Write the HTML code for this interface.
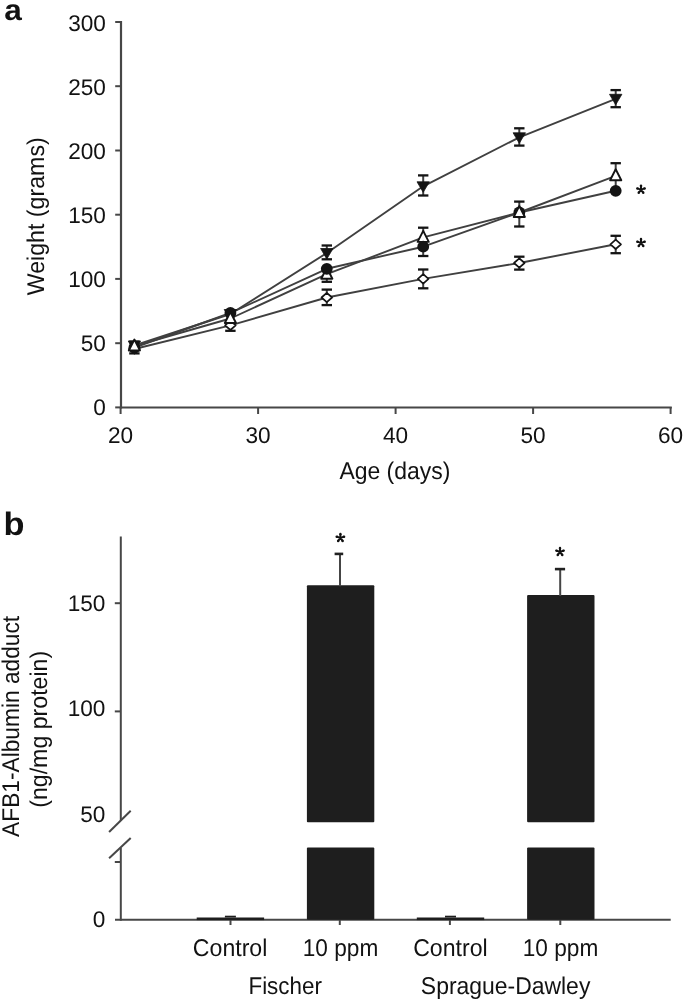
<!DOCTYPE html>
<html><head><meta charset="utf-8"><style>
html,body{margin:0;padding:0;background:#fff;}
body{width:685px;height:1002px;overflow:hidden;}
svg{display:block;will-change:transform;}
.w{width:685px;height:1002px;}
.t{font-family:"Liberation Sans",sans-serif;font-size:24.2px;fill:#121212;text-rendering:geometricPrecision;}
.d{font-size:22.6px;}
.b{font-family:"Liberation Sans",sans-serif;font-size:31px;font-weight:bold;fill:#121212;text-rendering:geometricPrecision;}
</style></head><body><div class="w">
<svg width="685" height="1002" viewBox="0 0 685 1002">
<text x="4.2" y="20.1" class="b" style="font-size:29.5px" textLength="17.6" lengthAdjust="spacingAndGlyphs">a</text>
<text x="3.6" y="534.9" class="b" style="font-size:32.5px" textLength="21" lengthAdjust="spacingAndGlyphs">b</text>
<line x1="121" y1="21" x2="121" y2="408.4" stroke="#474747" stroke-width="2.2"/>
<line x1="119.9" y1="407.5" x2="671.8" y2="407.5" stroke="#474747" stroke-width="2.2"/>
<line x1="115.2" y1="407.4" x2="121" y2="407.4" stroke="#474747" stroke-width="2"/>
<text x="105.9" y="414.5" text-anchor="end" class="t d">0</text>
<line x1="115.2" y1="343.2" x2="121" y2="343.2" stroke="#474747" stroke-width="2"/>
<text x="105.9" y="350.6" text-anchor="end" class="t d">50</text>
<line x1="115.2" y1="278.9" x2="121" y2="278.9" stroke="#474747" stroke-width="2"/>
<text x="105.9" y="286.6" text-anchor="end" class="t d">100</text>
<line x1="115.2" y1="214.7" x2="121" y2="214.7" stroke="#474747" stroke-width="2"/>
<text x="105.9" y="222.7" text-anchor="end" class="t d">150</text>
<line x1="115.2" y1="150.5" x2="121" y2="150.5" stroke="#474747" stroke-width="2"/>
<text x="105.9" y="158.8" text-anchor="end" class="t d">200</text>
<line x1="115.2" y1="86.2" x2="121" y2="86.2" stroke="#474747" stroke-width="2"/>
<text x="105.9" y="94.9" text-anchor="end" class="t d">250</text>
<line x1="115.2" y1="22.0" x2="121" y2="22.0" stroke="#474747" stroke-width="2"/>
<text x="105.9" y="30.9" text-anchor="end" class="t d">300</text>
<line x1="120.6" y1="407" x2="120.6" y2="414" stroke="#474747" stroke-width="2"/>
<text x="120.6" y="442.8" text-anchor="middle" class="t d">20</text>
<line x1="258.1" y1="407" x2="258.1" y2="414" stroke="#474747" stroke-width="2"/>
<text x="258.1" y="442.8" text-anchor="middle" class="t d">30</text>
<line x1="395.6" y1="407" x2="395.6" y2="414" stroke="#474747" stroke-width="2"/>
<text x="395.6" y="442.8" text-anchor="middle" class="t d">40</text>
<line x1="533.1" y1="407" x2="533.1" y2="414" stroke="#474747" stroke-width="2"/>
<text x="533.1" y="442.8" text-anchor="middle" class="t d">50</text>
<line x1="670.6" y1="407" x2="670.6" y2="414" stroke="#474747" stroke-width="2"/>
<text x="670.6" y="442.8" text-anchor="middle" class="t d">60</text>
<line x1="134.4" y1="341.6" x2="134.4" y2="353.4" stroke="#404040" stroke-width="2"/>
<line x1="129.2" y1="341.6" x2="139.6" y2="341.6" stroke="#141414" stroke-width="2.3"/>
<line x1="129.2" y1="353.4" x2="139.6" y2="353.4" stroke="#141414" stroke-width="2.3"/>
<line x1="230.4" y1="313.0" x2="230.4" y2="330.8" stroke="#404040" stroke-width="2"/>
<line x1="225.2" y1="313.0" x2="235.6" y2="313.0" stroke="#141414" stroke-width="2.3"/>
<line x1="225.2" y1="330.8" x2="235.6" y2="330.8" stroke="#141414" stroke-width="2.3"/>
<line x1="326.8" y1="245.5" x2="326.8" y2="259.3" stroke="#404040" stroke-width="2"/>
<line x1="321.6" y1="245.5" x2="332.0" y2="245.5" stroke="#141414" stroke-width="2.3"/>
<line x1="321.6" y1="259.3" x2="332.0" y2="259.3" stroke="#141414" stroke-width="2.3"/>
<line x1="326.8" y1="268.0" x2="326.8" y2="281.8" stroke="#404040" stroke-width="2"/>
<line x1="321.6" y1="268.0" x2="332.0" y2="268.0" stroke="#141414" stroke-width="2.3"/>
<line x1="321.6" y1="281.8" x2="332.0" y2="281.8" stroke="#141414" stroke-width="2.3"/>
<line x1="326.8" y1="289.6" x2="326.8" y2="305.1" stroke="#404040" stroke-width="2"/>
<line x1="321.6" y1="289.6" x2="332.0" y2="289.6" stroke="#141414" stroke-width="2.3"/>
<line x1="321.6" y1="305.1" x2="332.0" y2="305.1" stroke="#141414" stroke-width="2.3"/>
<line x1="423.2" y1="175.4" x2="423.2" y2="195.5" stroke="#404040" stroke-width="2"/>
<line x1="418.0" y1="175.4" x2="428.4" y2="175.4" stroke="#141414" stroke-width="2.3"/>
<line x1="418.0" y1="195.5" x2="428.4" y2="195.5" stroke="#141414" stroke-width="2.3"/>
<line x1="423.2" y1="227.7" x2="423.2" y2="256.0" stroke="#404040" stroke-width="2"/>
<line x1="418.0" y1="227.7" x2="428.4" y2="227.7" stroke="#141414" stroke-width="2.3"/>
<line x1="418.0" y1="256.0" x2="428.4" y2="256.0" stroke="#141414" stroke-width="2.3"/>
<line x1="423.2" y1="269.5" x2="423.2" y2="288.3" stroke="#404040" stroke-width="2"/>
<line x1="418.0" y1="269.5" x2="428.4" y2="269.5" stroke="#141414" stroke-width="2.3"/>
<line x1="418.0" y1="288.3" x2="428.4" y2="288.3" stroke="#141414" stroke-width="2.3"/>
<line x1="519.3" y1="128.3" x2="519.3" y2="145.6" stroke="#404040" stroke-width="2"/>
<line x1="514.1" y1="128.3" x2="524.5" y2="128.3" stroke="#141414" stroke-width="2.3"/>
<line x1="514.1" y1="145.6" x2="524.5" y2="145.6" stroke="#141414" stroke-width="2.3"/>
<line x1="519.3" y1="201.6" x2="519.3" y2="226.5" stroke="#404040" stroke-width="2"/>
<line x1="514.1" y1="201.6" x2="524.5" y2="201.6" stroke="#141414" stroke-width="2.3"/>
<line x1="514.1" y1="226.5" x2="524.5" y2="226.5" stroke="#141414" stroke-width="2.3"/>
<line x1="519.3" y1="256.7" x2="519.3" y2="269.6" stroke="#404040" stroke-width="2"/>
<line x1="514.1" y1="256.7" x2="524.5" y2="256.7" stroke="#141414" stroke-width="2.3"/>
<line x1="514.1" y1="269.6" x2="524.5" y2="269.6" stroke="#141414" stroke-width="2.3"/>
<line x1="615.7" y1="90.1" x2="615.7" y2="107.2" stroke="#404040" stroke-width="2"/>
<line x1="610.5" y1="90.1" x2="620.9" y2="90.1" stroke="#141414" stroke-width="2.3"/>
<line x1="610.5" y1="107.2" x2="620.9" y2="107.2" stroke="#141414" stroke-width="2.3"/>
<line x1="615.7" y1="163.2" x2="615.7" y2="190.0" stroke="#404040" stroke-width="2"/>
<line x1="610.5" y1="163.2" x2="620.9" y2="163.2" stroke="#141414" stroke-width="2.3"/>
<line x1="610.5" y1="190.0" x2="620.9" y2="190.0" stroke="#141414" stroke-width="2.3"/>
<line x1="615.7" y1="235.8" x2="615.7" y2="253.2" stroke="#404040" stroke-width="2"/>
<line x1="610.5" y1="235.8" x2="620.9" y2="235.8" stroke="#141414" stroke-width="2.3"/>
<line x1="610.5" y1="253.2" x2="620.9" y2="253.2" stroke="#141414" stroke-width="2.3"/>
<polyline points="134.4,349.0 230.4,325.3 326.8,297.5 423.2,278.9 519.3,263.0 615.7,244.3" fill="none" stroke="#404040" stroke-width="1.9" stroke-linejoin="round"/>
<polyline points="134.4,347.5 230.4,313.0 326.8,268.8 423.2,246.7 519.3,212.5 615.7,190.8" fill="none" stroke="#404040" stroke-width="1.9" stroke-linejoin="round"/>
<polyline points="134.4,346.0 230.4,318.5 326.8,274.2 423.2,237.4 519.3,212.5 615.7,175.8" fill="none" stroke="#404040" stroke-width="1.9" stroke-linejoin="round"/>
<polyline points="134.4,345.5 230.4,314.0 326.8,253.0 423.2,186.3 519.3,137.3 615.7,98.8" fill="none" stroke="#404040" stroke-width="1.9" stroke-linejoin="round"/>
<path d="M134.4,344.3 L139.7,349.0 L134.4,353.7 L129.1,349.0 Z" fill="#fff" stroke="#141414" stroke-width="1.7" stroke-linejoin="round"/>
<path d="M128.2,341.0 L140.6,341.0 L134.4,351.5 Z" fill="#141414" stroke="#141414" stroke-width="0.8" stroke-linejoin="round"/>
<circle cx="134.4" cy="347.5" r="5.9" fill="#141414"/>
<path d="M134.4,339.5 L140.0,350.5 L128.8,350.5 Z" fill="#fff" stroke="#141414" stroke-width="1.9" stroke-linejoin="round"/>
<path d="M230.4,320.6 L235.7,325.3 L230.4,330.0 L225.1,325.3 Z" fill="#fff" stroke="#141414" stroke-width="1.7" stroke-linejoin="round"/>
<path d="M224.2,309.5 L236.6,309.5 L230.4,320.0 Z" fill="#141414" stroke="#141414" stroke-width="0.8" stroke-linejoin="round"/>
<circle cx="230.4" cy="313.0" r="5.9" fill="#141414"/>
<path d="M230.4,312.0 L236.0,323.0 L224.8,323.0 Z" fill="#fff" stroke="#141414" stroke-width="1.9" stroke-linejoin="round"/>
<path d="M326.8,292.8 L332.1,297.5 L326.8,302.2 L321.5,297.5 Z" fill="#fff" stroke="#141414" stroke-width="1.7" stroke-linejoin="round"/>
<path d="M320.6,248.5 L333.0,248.5 L326.8,259.0 Z" fill="#141414" stroke="#141414" stroke-width="0.8" stroke-linejoin="round"/>
<path d="M326.8,267.7 L332.4,278.7 L321.2,278.7 Z" fill="#fff" stroke="#141414" stroke-width="1.9" stroke-linejoin="round"/>
<circle cx="326.8" cy="268.8" r="5.9" fill="#141414"/>
<path d="M423.2,274.2 L428.5,278.9 L423.2,283.6 L417.9,278.9 Z" fill="#fff" stroke="#141414" stroke-width="1.7" stroke-linejoin="round"/>
<path d="M417.0,181.8 L429.4,181.8 L423.2,192.3 Z" fill="#141414" stroke="#141414" stroke-width="0.8" stroke-linejoin="round"/>
<path d="M423.2,230.9 L428.8,241.9 L417.6,241.9 Z" fill="#fff" stroke="#141414" stroke-width="1.9" stroke-linejoin="round"/>
<circle cx="423.2" cy="246.7" r="5.9" fill="#141414"/>
<path d="M519.3,258.3 L524.6,263.0 L519.3,267.7 L514.0,263.0 Z" fill="#fff" stroke="#141414" stroke-width="1.7" stroke-linejoin="round"/>
<path d="M513.1,132.8 L525.5,132.8 L519.3,143.3 Z" fill="#141414" stroke="#141414" stroke-width="0.8" stroke-linejoin="round"/>
<circle cx="519.3" cy="212.5" r="5.9" fill="#141414"/>
<path d="M519.3,206.0 L524.9,217.0 L513.7,217.0 Z" fill="#fff" stroke="#141414" stroke-width="1.9" stroke-linejoin="round"/>
<path d="M615.7,239.6 L621.0,244.3 L615.7,249.0 L610.4,244.3 Z" fill="#fff" stroke="#141414" stroke-width="1.7" stroke-linejoin="round"/>
<path d="M609.5,94.3 L621.9,94.3 L615.7,104.8 Z" fill="#141414" stroke="#141414" stroke-width="0.8" stroke-linejoin="round"/>
<circle cx="615.7" cy="190.8" r="5.9" fill="#141414"/>
<path d="M615.7,169.3 L621.3,180.3 L610.1,180.3 Z" fill="#fff" stroke="#141414" stroke-width="1.9" stroke-linejoin="round"/>
<path d="M640.25,189.60L639.80,185.70L642.20,185.70L641.75,189.60ZM640.77,188.89L644.34,187.25L645.08,189.54L641.23,190.31ZM640.77,190.31L636.92,189.54L637.66,187.25L641.23,188.89ZM641.61,189.16L644.26,192.05L642.32,193.46L640.39,190.04ZM641.61,190.04L639.68,193.46L637.74,192.05L640.39,189.16Z" fill="#111"/><circle cx="641.00" cy="185.70" r="1.20" fill="#111"/><circle cx="644.71" cy="188.39" r="1.20" fill="#111"/><circle cx="637.29" cy="188.39" r="1.20" fill="#111"/><circle cx="643.29" cy="192.76" r="1.20" fill="#111"/><circle cx="638.71" cy="192.76" r="1.20" fill="#111"/>
<path d="M640.25,242.90L639.80,239.00L642.20,239.00L641.75,242.90ZM640.77,242.19L644.34,240.55L645.08,242.84L641.23,243.61ZM640.77,243.61L636.92,242.84L637.66,240.55L641.23,242.19ZM641.61,242.46L644.26,245.35L642.32,246.76L640.39,243.34ZM641.61,243.34L639.68,246.76L637.74,245.35L640.39,242.46Z" fill="#111"/><circle cx="641.00" cy="239.00" r="1.20" fill="#111"/><circle cx="644.71" cy="241.69" r="1.20" fill="#111"/><circle cx="637.29" cy="241.69" r="1.20" fill="#111"/><circle cx="643.29" cy="246.06" r="1.20" fill="#111"/><circle cx="638.71" cy="246.06" r="1.20" fill="#111"/>
<text x="394.9" y="478.8" text-anchor="middle" class="t" textLength="111" lengthAdjust="spacingAndGlyphs" >Age (days)</text>
<text transform="translate(44.3,216.3) rotate(-90)" text-anchor="middle" class="t" textLength="158" lengthAdjust="spacingAndGlyphs">Weight (grams)</text>
<line x1="120.8" y1="536.5" x2="120.8" y2="820.4" stroke="#474747" stroke-width="2"/>
<line x1="120.8" y1="847.8" x2="120.8" y2="920.7" stroke="#474747" stroke-width="2"/>
<line x1="109.1" y1="832" x2="130.7" y2="810.8" stroke="#474747" stroke-width="2"/>
<line x1="109.1" y1="858.3" x2="130.7" y2="837.9" stroke="#474747" stroke-width="2"/>
<line x1="114.8" y1="603.2" x2="121" y2="603.2" stroke="#474747" stroke-width="2"/>
<line x1="114.8" y1="711.4" x2="121" y2="711.4" stroke="#474747" stroke-width="2"/>
<line x1="114.8" y1="862" x2="121" y2="862" stroke="#474747" stroke-width="2"/>
<line x1="115" y1="919.7" x2="670.7" y2="919.7" stroke="#474747" stroke-width="2.1"/>
<text x="105.4" y="610.8" text-anchor="end" class="t d">150</text>
<text x="105.4" y="716.0" text-anchor="end" class="t d">100</text>
<text x="105.4" y="821.8" text-anchor="end" class="t d">50</text>
<text x="105.4" y="927.1" text-anchor="end" class="t d">0</text>
<line x1="230.5" y1="919" x2="230.5" y2="925" stroke="#474747" stroke-width="2"/>
<line x1="339.8" y1="919" x2="339.8" y2="925" stroke="#474747" stroke-width="2"/>
<line x1="449.9" y1="919" x2="449.9" y2="925" stroke="#474747" stroke-width="2"/>
<line x1="560.3" y1="919" x2="560.3" y2="925" stroke="#474747" stroke-width="2"/>
<rect x="196.7" y="917.5" width="67.4" height="2.6" fill="#1e1e1e"/>
<line x1="224.9" y1="916.6" x2="235.9" y2="916.6" stroke="#1e1e1e" stroke-width="1.8"/>
<rect x="416.8" y="917.5" width="67.4" height="2.6" fill="#1e1e1e"/>
<line x1="445.0" y1="916.6" x2="456.0" y2="916.6" stroke="#1e1e1e" stroke-width="1.8"/>
<rect x="306.9" y="585.2" width="67.4" height="237.0" fill="#1e1e1e" rx="1"/>
<rect x="306.9" y="847.4" width="67.4" height="72.3" fill="#1e1e1e" rx="1"/>
<line x1="340.0" y1="553.9" x2="340.0" y2="586.2" stroke="#454545" stroke-width="2"/>
<line x1="334.6" y1="553.9" x2="343.2" y2="553.9" stroke="#222" stroke-width="2.6"/>
<rect x="527.1" y="595" width="67.4" height="227.2" fill="#1e1e1e" rx="1"/>
<rect x="527.1" y="847.4" width="67.4" height="72.3" fill="#1e1e1e" rx="1"/>
<line x1="560.2" y1="569.1" x2="560.2" y2="596" stroke="#454545" stroke-width="2"/>
<line x1="554.9" y1="569.1" x2="565.1" y2="569.1" stroke="#222" stroke-width="2.6"/>
<text x="230.1" y="955.5" text-anchor="middle" class="t" textLength="74.5" lengthAdjust="spacingAndGlyphs" >Control</text>
<text x="340.5" y="955.5" text-anchor="middle" class="t" textLength="75.5" lengthAdjust="spacingAndGlyphs" >10 ppm</text>
<text x="450.4" y="955.5" text-anchor="middle" class="t" textLength="74.5" lengthAdjust="spacingAndGlyphs" >Control</text>
<text x="560.5" y="955.5" text-anchor="middle" class="t" textLength="75.5" lengthAdjust="spacingAndGlyphs" >10 ppm</text>
<text x="285.2" y="994" text-anchor="middle" class="t" textLength="73.5" lengthAdjust="spacingAndGlyphs" >Fischer</text>
<text x="505.6" y="994" text-anchor="middle" class="t" textLength="169.5" lengthAdjust="spacingAndGlyphs" >Sprague-Dawley</text>
<path d="M339.65,537.90L339.20,534.00L341.60,534.00L341.15,537.90ZM340.17,537.19L343.74,535.55L344.48,537.84L340.63,538.61ZM340.17,538.61L336.32,537.84L337.06,535.55L340.63,537.19ZM341.01,537.46L343.66,540.35L341.72,541.76L339.79,538.34ZM341.01,538.34L339.08,541.76L337.14,540.35L339.79,537.46Z" fill="#111"/><circle cx="340.40" cy="534.00" r="1.20" fill="#111"/><circle cx="344.11" cy="536.69" r="1.20" fill="#111"/><circle cx="336.69" cy="536.69" r="1.20" fill="#111"/><circle cx="342.69" cy="541.06" r="1.20" fill="#111"/><circle cx="338.11" cy="541.06" r="1.20" fill="#111"/>
<path d="M559.25,551.80L558.80,547.90L561.20,547.90L560.75,551.80ZM559.77,551.09L563.34,549.45L564.08,551.74L560.23,552.51ZM559.77,552.51L555.92,551.74L556.66,549.45L560.23,551.09ZM560.61,551.36L563.26,554.25L561.32,555.66L559.39,552.24ZM560.61,552.24L558.68,555.66L556.74,554.25L559.39,551.36Z" fill="#111"/><circle cx="560.00" cy="547.90" r="1.20" fill="#111"/><circle cx="563.71" cy="550.59" r="1.20" fill="#111"/><circle cx="556.29" cy="550.59" r="1.20" fill="#111"/><circle cx="562.29" cy="554.96" r="1.20" fill="#111"/><circle cx="557.71" cy="554.96" r="1.20" fill="#111"/>
<text transform="translate(19.0,726.4) rotate(-90)" text-anchor="middle" class="t" textLength="221" lengthAdjust="spacingAndGlyphs">AFB1-Albumin adduct</text>
<text transform="translate(46.6,729.3) rotate(-90)" text-anchor="middle" class="t" textLength="157" lengthAdjust="spacingAndGlyphs">(ng/mg protein)</text>
</svg></div>
</body></html>
